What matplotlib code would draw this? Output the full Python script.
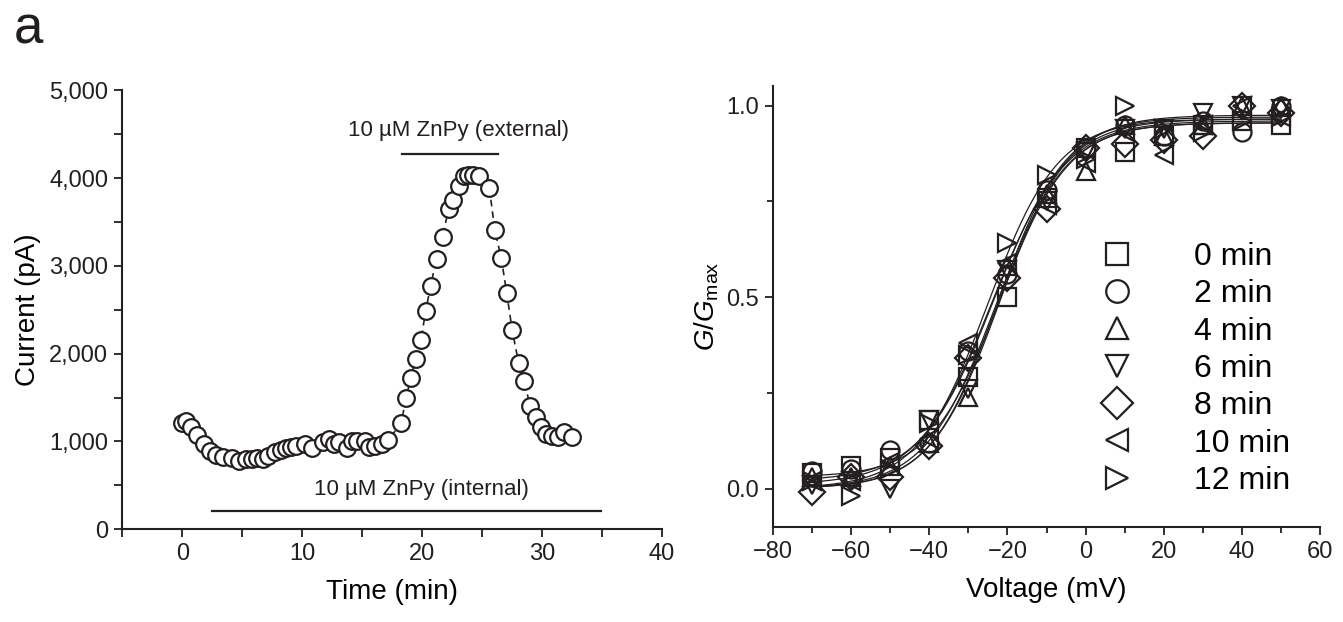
import matplotlib
matplotlib.use("Agg")
import matplotlib.pyplot as plt
import numpy as np
from matplotlib.ticker import FuncFormatter, MultipleLocator

plt.rcParams["font.family"] = ["Liberation Sans", "DejaVu Sans"]
plt.rcParams["mathtext.fontset"] = "custom"
plt.rcParams["mathtext.rm"] = "Liberation Sans"
plt.rcParams["mathtext.it"] = "Liberation Sans:italic"

# ── Panel 1: current time course ─────────────────────────────────────────────
time_min = [0.0, 0.3, 0.75, 1.2, 1.8, 2.3, 2.8, 3.4, 4.15, 4.75, 5.35, 5.8,
            6.25, 6.7, 7.15, 7.75, 8.2, 8.65, 9.1, 9.5, 10.25, 10.85, 11.75,
            12.2, 12.65, 13.1, 13.7, 14.15, 14.6, 15.2, 15.6, 16.05, 16.65,
            17.15, 18.25, 18.65, 19.05, 19.45, 19.9, 20.3, 20.7, 21.2, 21.7,
            22.2, 22.6, 23.05, 23.5, 23.85, 24.25, 24.7, 25.6, 26.05, 26.6,
            27.05, 27.5, 28.05, 28.5, 29.0, 29.45, 29.9, 30.35, 30.8, 31.3,
            31.85, 32.5]
current_pa = [1215, 1235, 1160, 1075, 970, 895, 850, 825, 810, 780, 800, 800,
              810, 800, 835, 875, 900, 930, 940, 950, 970, 925, 990,
              1025, 975, 990, 930, 1005, 1005, 1005, 940, 950, 970,
              1015, 1205, 1495, 1720, 1940, 2155, 2490, 2770, 3080, 3325,
              3650, 3755, 3905, 4020, 4030, 4040, 4020, 3890, 3410, 3085,
              2690, 2270, 1890, 1690, 1405, 1275, 1160, 1085, 1065, 1055,
              1105, 1055]

external_bar = (18.35, 26.35)
external_y = 4270
internal_bar = (2.45, 34.9)
internal_y = 210

# ── Panel 2: normalised conductance ─────────────────────────────────────────
voltage_mv = [-70, -60, -50, -40, -30, -20, -10, 0, 10, 20, 30, 40, 50]
series_labels = ["0 min", "2 min", "4 min", "6 min", "8 min", "10 min", "12 min"]
series_markers = ["s", "o", "^", "v", "D", "<", ">"]
g_0 = [0.04, 0.06, 0.08, 0.18, 0.29, 0.50, 0.76, 0.89, 0.88, 0.92, 0.95, 0.96, 0.95]
g_2 = [0.045, 0.05, 0.10, 0.12, 0.36, 0.56, 0.78, 0.89, 0.95, 0.92, 0.96, 0.93, 1.00]
g_4 = [0.03, 0.03, 0.06, 0.12, 0.24, 0.58, 0.77, 0.83, 0.95, 0.92, 0.95, 1.00, 1.00]
g_6 = [0.01, 0.02, 0.00, 0.18, 0.26, 0.57, 0.75, 0.88, 0.94, 0.94, 0.98, 1.00, 0.99]
g_8 = [-0.01, 0.03, 0.03, 0.11, 0.34, 0.55, 0.73, 0.89, 0.90, 0.91, 0.92, 1.00, 0.98]
g_10 = [0.02, 0.02, 0.07, 0.13, 0.38, 0.59, 0.74, 0.85, 0.93, 0.87, 0.95, 1.00, 0.97]
g_12 = [0.02, -0.02, 0.05, 0.17, 0.35, 0.64, 0.82, 0.86, 1.00, 0.94, 0.93, 0.96, 0.97]
g_series = [g_0, g_2, g_4, g_6, g_8, g_10, g_12]

# Boltzmann fit parameters per series: V1/2 (mV), slope k (mV), Gmin, Gmax
fit_vhalf = [-22.0, -23.5, -22.5, -22.0, -23.0, -24.0, -25.0]
fit_slope = [8.8, 9.2, 8.6, 8.8, 9.0, 9.4, 9.0]
fit_gmin = [0.03, 0.02, 0.0, 0.0, 0.0, 0.01, 0.0]
fit_gmax = [0.955, 0.965, 0.97, 0.975, 0.955, 0.96, 0.965]

INK = "#231f20"

fig = plt.figure(figsize=(13.43, 6.22), dpi=100)
ax1 = fig.add_axes([0.091, 0.149, 0.402, 0.706])
ax2 = fig.add_axes([0.5755, 0.153, 0.4075, 0.708])

for ax in (ax1, ax2):
    ax.spines["top"].set_visible(False)
    ax.spines["right"].set_visible(False)
    for s in ("left", "bottom"):
        ax.spines[s].set_linewidth(1.5)
        ax.spines[s].set_color(INK)
    ax.tick_params(which="major", direction="out", length=6, width=1.3,
                   labelsize=17, colors=INK, pad=4)
    ax.tick_params(which="minor", direction="out", length=4, width=1.3,
                   colors=INK)

# left panel
ax1.plot(time_min, current_pa, color=INK, lw=1.2, ls=(0, (4, 3)),
         marker="o", ms=12, mfc="white", mec=INK, mew=1.6, zorder=3)
ax1.plot(external_bar, [external_y] * 2, color=INK, lw=1.6)
ax1.text(np.mean(external_bar) + 0.7, external_y + 150, "10 µM ZnPy (external)",
         ha="center", va="bottom", fontsize=16, color=INK)
ax1.plot(internal_bar, [internal_y] * 2, color=INK, lw=1.6)
ax1.text(19.9, internal_y + 120, "10 µM ZnPy (internal)",
         ha="center", va="bottom", fontsize=16, color=INK)

ax1.set_xlim(-5, 40)
ax1.set_ylim(0, 5000)
ax1.xaxis.set_major_locator(MultipleLocator(10))
ax1.xaxis.set_minor_locator(MultipleLocator(5))
ax1.yaxis.set_major_locator(MultipleLocator(1000))
ax1.yaxis.set_minor_locator(MultipleLocator(500))
ax1.yaxis.set_major_formatter(FuncFormatter(lambda v, p: f"{v:,.0f}"))
ax1.tick_params(which="minor", length=6)
ax1.set_xlabel("Time (min)", fontsize=20, labelpad=10)
ax1.set_ylabel("Current (pA)", fontsize=20, labelpad=6)

# right panel
v_fit = np.linspace(-70, 50, 300)
for vh, k, gmin, gmax in zip(fit_vhalf, fit_slope, fit_gmin, fit_gmax):
    ax2.plot(v_fit, gmin + (gmax - gmin) / (1 + np.exp((vh - v_fit) / k)),
             color=INK, lw=0.9, zorder=2)
for g, mk, lab in zip(g_series, series_markers, series_labels):
    ax2.plot(voltage_mv, g, ls="none", marker=mk, ms=13, mfc="none",
             mec=INK, mew=1.6, label=lab, zorder=3)

ax2.set_xlim(-80, 60)
ax2.set_ylim(-0.1, 1.05)
ax2.xaxis.set_major_locator(MultipleLocator(20))
ax2.xaxis.set_minor_locator(MultipleLocator(10))
ax2.yaxis.set_major_locator(MultipleLocator(0.5))
ax2.yaxis.set_minor_locator(MultipleLocator(0.25))
ax2.yaxis.set_major_formatter(FuncFormatter(lambda v, p: f"{v:.1f}"))
ax2.set_xlabel("Voltage (mV)", fontsize=20, labelpad=10)
ax2.set_ylabel(r"$\mathit{G}/\mathit{G}_{\mathrm{max}}$", fontsize=20, labelpad=4)

ax2.legend(loc="lower left", bbox_to_anchor=(0.6, 0.07), frameon=False,
           fontsize=23, handlelength=1.0, handletextpad=1.9, markerscale=1.25,
           labelspacing=0.23, borderaxespad=0, borderpad=0)

fig.text(0.010, 0.93, "a", fontsize=38, color=INK)

fig.savefig("out.png", dpi=100)
